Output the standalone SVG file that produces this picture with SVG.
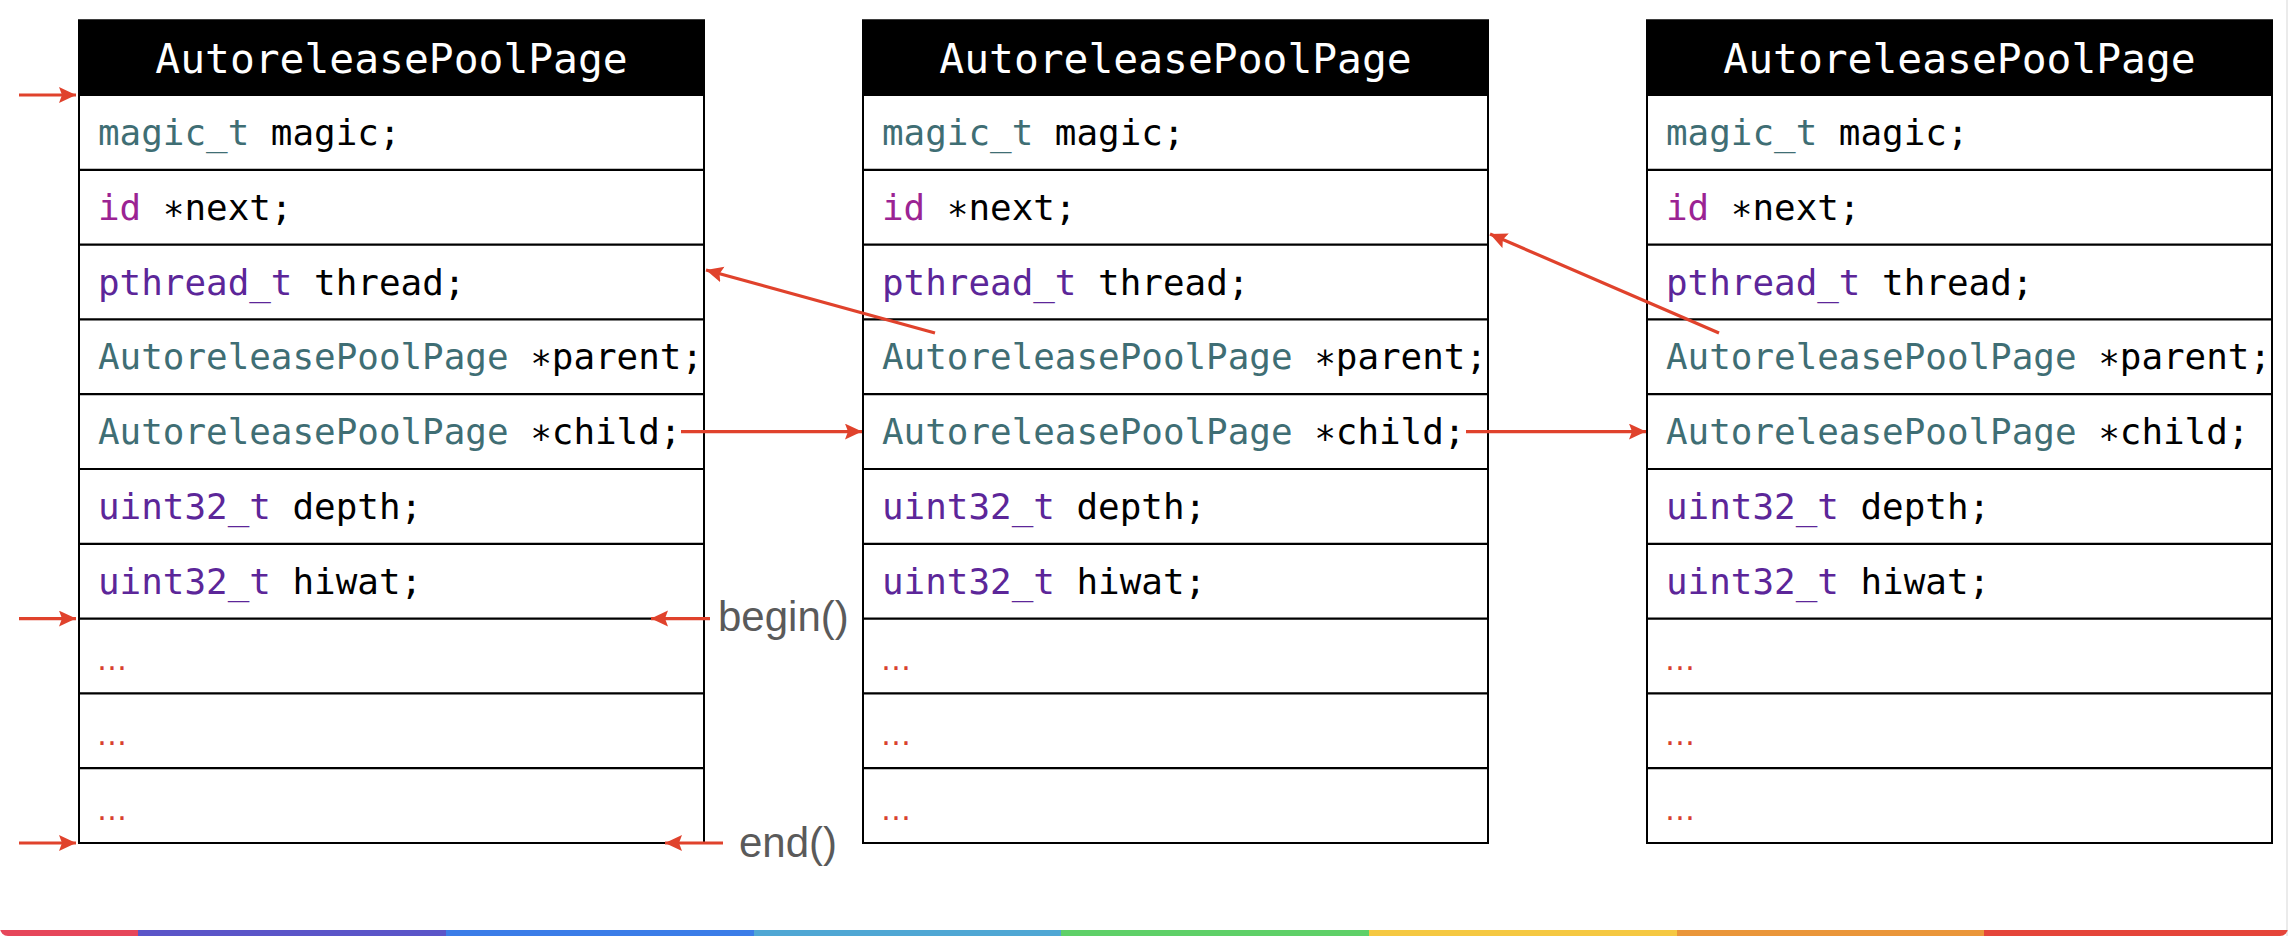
<svg xmlns="http://www.w3.org/2000/svg" width="2292" height="936" viewBox="0 0 2292 936">
<style>
.frame{fill:#fff;stroke:#000;stroke-width:2}
.hdr{fill:#000;stroke:#000;stroke-width:2}
.row{stroke:#000;stroke-width:2.2}
.htxt{font-family:"DejaVu Sans Mono","Liberation Mono",monospace;font-size:41.3px;fill:#fff;text-anchor:middle}
.code{font-family:"DejaVu Sans Mono","Liberation Mono",monospace;font-size:35.9px;fill:#000}
.ty{fill:#3F6E74}
.kw{fill:#9B2393}
.sys{fill:#5C2699}
.dots{font-family:"DejaVu Sans",sans-serif;font-size:30px;fill:#D8412F}
.lbl{font-family:"Liberation Sans",Arial,sans-serif;font-size:42px;fill:#5a5a5a}
.arr{stroke:#E0422C;stroke-width:3.2;fill:none;marker-end:url(#ah)}
</style>
<defs>
<marker id="ah" markerUnits="userSpaceOnUse" markerWidth="20" markerHeight="18" refX="17" refY="8" orient="auto">
<path d="M0,0 L17,8 L0,16 L3,8 Z" fill="#E0422C"/>
</marker>
<clipPath id="card"><rect x="0" y="0" width="2288" height="936" rx="8" ry="8"/></clipPath>
</defs>
<rect x="0" y="0" width="2292" height="936" fill="#fff"/>
<line x1="2287" y1="0" x2="2287" y2="936" stroke="#ebebeb" stroke-width="2"/>
<g id="colorbar" clip-path="url(#card)">
<rect x="0" y="930" width="138" height="6" fill="#E6465A"/>
<rect x="138" y="930" width="308" height="6" fill="#5B55C8"/>
<rect x="446" y="930" width="308" height="6" fill="#3B7DE8"/>
<rect x="754" y="930" width="307" height="6" fill="#4FA7D4"/>
<rect x="1061" y="930" width="308" height="6" fill="#5FD068"/>
<rect x="1369" y="930" width="308" height="6" fill="#F5C842"/>
<rect x="1677" y="930" width="307" height="6" fill="#EA963A"/>
<rect x="1984" y="930" width="304" height="6" fill="#E5453A"/>
</g>

<g id="page1">
<rect class="frame" x="79" y="20.5" width="625" height="822.5"/>
<rect class="hdr" x="79" y="20.5" width="625" height="74.5"/>
<text class="htxt" x="391.5" y="72.5">AutoreleasePoolPage</text>
<line class="row" x1="79" y1="169.8" x2="704" y2="169.8"/>
<line class="row" x1="79" y1="244.6" x2="704" y2="244.6"/>
<line class="row" x1="79" y1="319.4" x2="704" y2="319.4"/>
<line class="row" x1="79" y1="394.2" x2="704" y2="394.2"/>
<line class="row" x1="79" y1="469" x2="704" y2="469"/>
<line class="row" x1="79" y1="543.8" x2="704" y2="543.8"/>
<line class="row" x1="79" y1="618.6" x2="704" y2="618.6"/>
<line class="row" x1="79" y1="693.4" x2="704" y2="693.4"/>
<line class="row" x1="79" y1="768.2" x2="704" y2="768.2"/>
<text class="code" x="98" y="145"><tspan class="ty">magic_t</tspan> magic;</text>
<text class="code" x="98" y="220"><tspan class="kw">id</tspan> ∗next;</text>
<text class="code" x="98" y="294.6"><tspan class="sys">pthread_t</tspan> thread;</text>
<text class="code" x="98" y="369.4"><tspan class="ty">AutoreleasePoolPage</tspan> ∗parent;</text>
<text class="code" x="98" y="444.2"><tspan class="ty">AutoreleasePoolPage</tspan> ∗child;</text>
<text class="code" x="98" y="519"><tspan class="sys">uint32_t</tspan> depth;</text>
<text class="code" x="98" y="593.8"><tspan class="sys">uint32_t</tspan> hiwat;</text>
<text class="dots" x="97" y="670">…</text>
<text class="dots" x="97" y="745">…</text>
<text class="dots" x="97" y="820">…</text>
</g>

<g id="page2">
<rect class="frame" x="863" y="20.5" width="625" height="822.5"/>
<rect class="hdr" x="863" y="20.5" width="625" height="74.5"/>
<text class="htxt" x="1175.5" y="72.5">AutoreleasePoolPage</text>
<line class="row" x1="863" y1="169.8" x2="1488" y2="169.8"/>
<line class="row" x1="863" y1="244.6" x2="1488" y2="244.6"/>
<line class="row" x1="863" y1="319.4" x2="1488" y2="319.4"/>
<line class="row" x1="863" y1="394.2" x2="1488" y2="394.2"/>
<line class="row" x1="863" y1="469" x2="1488" y2="469"/>
<line class="row" x1="863" y1="543.8" x2="1488" y2="543.8"/>
<line class="row" x1="863" y1="618.6" x2="1488" y2="618.6"/>
<line class="row" x1="863" y1="693.4" x2="1488" y2="693.4"/>
<line class="row" x1="863" y1="768.2" x2="1488" y2="768.2"/>
<text class="code" x="882" y="145"><tspan class="ty">magic_t</tspan> magic;</text>
<text class="code" x="882" y="220"><tspan class="kw">id</tspan> ∗next;</text>
<text class="code" x="882" y="294.6"><tspan class="sys">pthread_t</tspan> thread;</text>
<text class="code" x="882" y="369.4"><tspan class="ty">AutoreleasePoolPage</tspan> ∗parent;</text>
<text class="code" x="882" y="444.2"><tspan class="ty">AutoreleasePoolPage</tspan> ∗child;</text>
<text class="code" x="882" y="519"><tspan class="sys">uint32_t</tspan> depth;</text>
<text class="code" x="882" y="593.8"><tspan class="sys">uint32_t</tspan> hiwat;</text>
<text class="dots" x="881" y="670">…</text>
<text class="dots" x="881" y="745">…</text>
<text class="dots" x="881" y="820">…</text>
</g>

<g id="page3">
<rect class="frame" x="1647" y="20.5" width="625" height="822.5"/>
<rect class="hdr" x="1647" y="20.5" width="625" height="74.5"/>
<text class="htxt" x="1959.5" y="72.5">AutoreleasePoolPage</text>
<line class="row" x1="1647" y1="169.8" x2="2272" y2="169.8"/>
<line class="row" x1="1647" y1="244.6" x2="2272" y2="244.6"/>
<line class="row" x1="1647" y1="319.4" x2="2272" y2="319.4"/>
<line class="row" x1="1647" y1="394.2" x2="2272" y2="394.2"/>
<line class="row" x1="1647" y1="469" x2="2272" y2="469"/>
<line class="row" x1="1647" y1="543.8" x2="2272" y2="543.8"/>
<line class="row" x1="1647" y1="618.6" x2="2272" y2="618.6"/>
<line class="row" x1="1647" y1="693.4" x2="2272" y2="693.4"/>
<line class="row" x1="1647" y1="768.2" x2="2272" y2="768.2"/>
<text class="code" x="1666" y="145"><tspan class="ty">magic_t</tspan> magic;</text>
<text class="code" x="1666" y="220"><tspan class="kw">id</tspan> ∗next;</text>
<text class="code" x="1666" y="294.6"><tspan class="sys">pthread_t</tspan> thread;</text>
<text class="code" x="1666" y="369.4"><tspan class="ty">AutoreleasePoolPage</tspan> ∗parent;</text>
<text class="code" x="1666" y="444.2"><tspan class="ty">AutoreleasePoolPage</tspan> ∗child;</text>
<text class="code" x="1666" y="519"><tspan class="sys">uint32_t</tspan> depth;</text>
<text class="code" x="1666" y="593.8"><tspan class="sys">uint32_t</tspan> hiwat;</text>
<text class="dots" x="1665" y="670">…</text>
<text class="dots" x="1665" y="745">…</text>
<text class="dots" x="1665" y="820">…</text>
</g>

<g id="labels">
<text class="lbl" x="718" y="631">begin()</text>
<text class="lbl" x="739" y="856.5">end()</text>
</g>

<g id="connectors">
<line class="arr" x1="19" y1="95" x2="76" y2="95"/>
<line class="arr" x1="19" y1="618.6" x2="76" y2="618.6"/>
<line class="arr" x1="19" y1="843" x2="76" y2="843"/>
<line class="arr" x1="710" y1="618.6" x2="651" y2="618.6"/>
<line class="arr" x1="723" y1="843" x2="665" y2="843"/>
<line class="arr" x1="935" y1="333" x2="706" y2="270"/>
<line class="arr" x1="1719" y1="333" x2="1490" y2="234"/>
<line class="arr" x1="681" y1="431.6" x2="862" y2="431.6"/>
<line class="arr" x1="1466" y1="431.6" x2="1646" y2="431.6"/>
</g>
</svg>
